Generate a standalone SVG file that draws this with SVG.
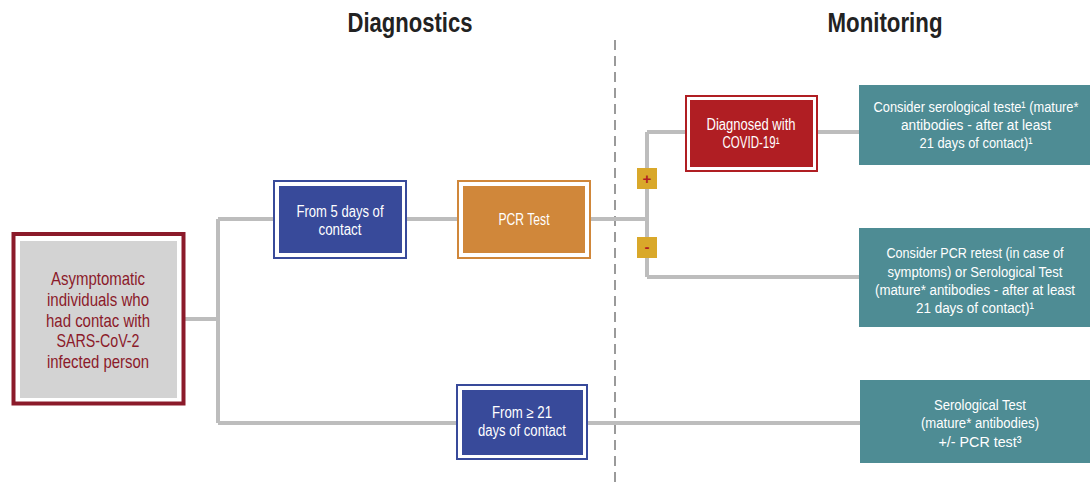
<svg xmlns="http://www.w3.org/2000/svg" width="1090" height="484" viewBox="0 0 1090 484">
<style>
text{font-family:"Liberation Sans",Arial,sans-serif;text-anchor:middle}
.h{font-size:27px;font-weight:bold;fill:#222}
.w{font-size:16px;fill:#fff}
.t{font-size:15.5px;fill:#fff}
.r{font-size:19px;fill:#8b1a2a}
.c{stroke:#bdbdbd;stroke-width:4;fill:none}
</style>
<rect width="1090" height="484" fill="#fff"/>
<text class="h" x="410" y="32" textLength="125" lengthAdjust="spacingAndGlyphs">Diagnostics</text>
<text class="h" x="885" y="32" textLength="115" lengthAdjust="spacingAndGlyphs">Monitoring</text>
<line x1="615" y1="40" x2="615" y2="484" stroke="#9a9a9a" stroke-width="2" stroke-dasharray="10,6"/>
<g id="connectors">
<path class="c" d="M185 319H218M218 219V423M218 219H273M407 219H457M591 219H647M647 132V277M647 132H686M818 132H860M647 277H860M218 423H456M588 423H860"/>
</g>
<g id="n-start">
<rect x="13.5" y="234" width="170" height="169.5" fill="#fff" stroke="#8b1a2a" stroke-width="4"/>
<rect x="20" y="241" width="157" height="157" fill="#d3d3d3"/>
<text class="r" x="98" y="285" textLength="94" lengthAdjust="spacingAndGlyphs">Asymptomatic</text>
<text class="r" x="98" y="306" textLength="102" lengthAdjust="spacingAndGlyphs">individuals who</text>
<text class="r" x="98" y="327" textLength="104" lengthAdjust="spacingAndGlyphs">had contac with</text>
<text class="r" x="98" y="347" textLength="83" lengthAdjust="spacingAndGlyphs">SARS-CoV-2</text>
<text class="r" x="98" y="368" textLength="102" lengthAdjust="spacingAndGlyphs">infected person</text>
</g>
<g id="n-5days">
<rect x="274" y="181" width="132" height="77" fill="#fff" stroke="#384a9a" stroke-width="2"/>
<rect x="279" y="186" width="123" height="67" fill="#384a9a"/>
<text class="w" x="340" y="217" textLength="87" lengthAdjust="spacingAndGlyphs">From 5 days of</text>
<text class="w" x="340" y="235" textLength="43" lengthAdjust="spacingAndGlyphs">contact</text>
</g>
<g id="n-pcr">
<rect x="458" y="181" width="132" height="77" fill="#fff" stroke="#d0873a" stroke-width="2"/>
<rect x="463" y="186" width="122" height="67" fill="#d0873a"/>
<text class="w" x="524" y="225" textLength="51" lengthAdjust="spacingAndGlyphs">PCR Test</text>
</g>
<g id="n-21days">
<rect x="457" y="385" width="130" height="74" fill="#fff" stroke="#384a9a" stroke-width="2"/>
<rect x="462" y="390" width="121" height="65" fill="#384a9a"/>
<text class="w" x="522" y="418" textLength="60" lengthAdjust="spacingAndGlyphs">From ≥ 21</text>
<text class="w" x="522" y="436" textLength="88" lengthAdjust="spacingAndGlyphs">days of contact</text>
</g>
<g id="n-plus">
<rect x="637" y="168" width="20" height="21" fill="#d9a82a"/>
<text x="647" y="184" style="font-size:15px;font-weight:bold;fill:#b01e23">+</text>
</g>
<g id="n-minus">
<rect x="637" y="237" width="20" height="21" fill="#d9a82a"/>
<text x="647" y="252" style="font-size:15px;font-weight:bold;fill:#b01e23">-</text>
</g>
<g id="n-diagnosed">
<rect x="686" y="96" width="131" height="75" fill="#fff" stroke="#b01e23" stroke-width="2"/>
<rect x="690" y="100" width="123" height="67" fill="#b01e23"/>
<text class="w" x="751" y="130" textLength="89" lengthAdjust="spacingAndGlyphs">Diagnosed with</text>
<text class="w" x="751" y="148" textLength="57" lengthAdjust="spacingAndGlyphs">COVID-19¹</text>
</g>
<g id="n-sero1">
<rect x="859" y="85" width="231" height="80" fill="#4e8c94"/>
<text class="t" x="976" y="112" textLength="205" lengthAdjust="spacingAndGlyphs">Consider serological teste¹ (mature*</text>
<text class="t" x="976" y="130" textLength="150" lengthAdjust="spacingAndGlyphs">antibodies -  after at least</text>
<text class="t" x="976" y="148" textLength="113" lengthAdjust="spacingAndGlyphs">21 days of contact)¹</text>
</g>
<g id="n-retest">
<rect x="859" y="228" width="231" height="99" fill="#4e8c94"/>
<text class="t" x="975" y="258" textLength="177" lengthAdjust="spacingAndGlyphs">Consider PCR retest (in case of</text>
<text class="t" x="975" y="277" textLength="175" lengthAdjust="spacingAndGlyphs">symptoms) or Serological Test</text>
<text class="t" x="975" y="295" textLength="200" lengthAdjust="spacingAndGlyphs">(mature* antibodies - after at least</text>
<text class="t" x="975" y="313" textLength="118" lengthAdjust="spacingAndGlyphs">21 days of contact)¹</text>
</g>
<g id="n-sero2">
<rect x="860" y="380" width="230" height="83" fill="#4e8c94"/>
<text class="t" x="980" y="410" textLength="92" lengthAdjust="spacingAndGlyphs">Serological Test</text>
<text class="t" x="980" y="428" textLength="118" lengthAdjust="spacingAndGlyphs">(mature* antibodies)</text>
<text class="t" x="980" y="447" textLength="83" lengthAdjust="spacingAndGlyphs">+/- PCR test³</text>
</g>
</svg>
